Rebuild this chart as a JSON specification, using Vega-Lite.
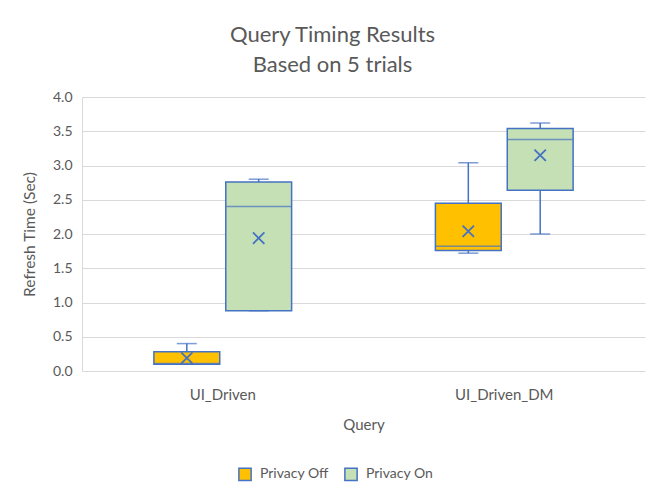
{
  "$schema": "https://vega.github.io/schema/vega-lite/v6.json",
  "width": 563,
  "height": 274,
  "autosize": {"type": "none"},
  "padding": {"left": 82, "top": 97, "right": 3, "bottom": 123},
  "background": "white",
  "config": {
    "view": {"stroke": null},
    "numberFormat": ".1f",
    "axisY": {
      "labelOverlap": false,
      "labelFont": "Lato",
      "labelFontSize": 14,
      "labelColor": "#595959",
      "labelPadding": 10,
      "titleFont": "Lato",
      "titleFontSize": 15.5,
      "titleFontWeight": "normal",
      "titleColor": "#595959",
      "titlePadding": 15,
      "domain": true,
      "domainColor": "#D9D9D9",
      "ticks": false,
      "grid": true,
      "gridColor": "#D9D9D9",
      "gridWidth": 1.2
    }
  },
  "title": {
    "text": ["Query Timing Results", "Based on 5 trials"],
    "font": "Lato",
    "fontSize": 22,
    "fontWeight": "normal",
    "color": "#595959",
    "anchor": "middle",
    "dx": -31,
    "lineHeight": 30,
    "offset": 13
  },
  "data": {
    "values": [
      {"Query": "UI_Driven", "Privacy": "Privacy Off", "min": 0.10, "q1": 0.10, "median": 0.11, "q3": 0.28, "max": 0.40, "mean": 0.19},
      {"Query": "UI_Driven", "Privacy": "Privacy On", "min": 0.88, "q1": 0.88, "median": 2.40, "q3": 2.76, "max": 2.80, "mean": 1.94},
      {"Query": "UI_Driven_DM", "Privacy": "Privacy Off", "min": 1.72, "q1": 1.76, "median": 1.82, "q3": 2.45, "max": 3.04, "mean": 2.04},
      {"Query": "UI_Driven_DM", "Privacy": "Privacy On", "min": 2.00, "q1": 2.64, "median": 3.38, "q3": 3.54, "max": 3.62, "mean": 3.15}
    ]
  },
  "encoding": {
    "x": {
      "field": "Query",
      "type": "nominal",
      "scale": {"paddingInner": 0, "paddingOuter": 0},
      "axis": {
        "title": "Query",
        "labelAngle": 0,
        "labelFont": "Lato",
        "labelFontSize": 15,
        "labelColor": "#595959",
        "labelPadding": 16,
        "titleFont": "Lato",
        "titleFontSize": 15,
        "titleFontWeight": "normal",
        "titleColor": "#595959",
        "titlePadding": 15,
        "domain": false,
        "ticks": false,
        "grid": false
      }
    },
    "xOffset": {
      "field": "Privacy",
      "type": "nominal",
      "scale": {"paddingInner": 0.084, "paddingOuter": 1.01}
    }
  },
  "layer": [
    {
      "mark": {"type": "rule", "color": "#4472C4", "strokeWidth": 1.5},
      "encoding": {
        "y": {"field": "min", "type": "quantitative", "title": "Refresh Time (Sec)", "scale": {"domain": [0, 4]}, "axis": {"values": [0, 0.5, 1, 1.5, 2, 2.5, 3, 3.5, 4]}},
        "y2": {"field": "q1"}
      }
    },
    {
      "mark": {"type": "rule", "color": "#4472C4", "strokeWidth": 1.5},
      "encoding": {
        "y": {"field": "q3", "type": "quantitative", "title": "Refresh Time (Sec)", "axis": {"values": [0, 0.5, 1, 1.5, 2, 2.5, 3, 3.5, 4]}},
        "y2": {"field": "max"}
      }
    },
    {
      "mark": {"type": "tick", "color": "#4472C4", "size": 20, "thickness": 1.5, "orient": "horizontal"},
      "encoding": {
        "y": {"field": "min", "type": "quantitative", "title": "Refresh Time (Sec)", "axis": {"values": [0, 0.5, 1, 1.5, 2, 2.5, 3, 3.5, 4]}}
      }
    },
    {
      "mark": {"type": "tick", "color": "#4472C4", "size": 20, "thickness": 1.5, "orient": "horizontal"},
      "encoding": {
        "y": {"field": "max", "type": "quantitative", "title": "Refresh Time (Sec)", "axis": {"values": [0, 0.5, 1, 1.5, 2, 2.5, 3, 3.5, 4]}}
      }
    },
    {
      "mark": {"type": "bar", "stroke": "#4472C4", "strokeWidth": 1.5, "opacity": 1},
      "encoding": {
        "y": {"field": "q1", "type": "quantitative", "title": "Refresh Time (Sec)", "axis": {"values": [0, 0.5, 1, 1.5, 2, 2.5, 3, 3.5, 4]}},
        "y2": {"field": "q3"},
        "color": {
          "field": "Privacy",
          "type": "nominal",
          "scale": {"domain": ["Privacy Off", "Privacy On"], "range": ["#FFC000", "#C5E0B4"]},
          "legend": {
            "title": null,
            "orient": "none",
            "direction": "horizontal",
            "legendX": 156,
            "legendY": 370,
            "symbolType": "square",
            "symbolSize": 150,
            "symbolStrokeColor": "#4472C4",
            "symbolStrokeWidth": 1.5,
            "symbolOpacity": 1,
            "labelFont": "Lato",
            "labelFontSize": 14,
            "labelColor": "#595959",
            "columnPadding": 12,
            "labelOffset": 8
          }
        }
      }
    },
    {
      "mark": {"type": "tick", "color": "#4472C4", "size": 65, "thickness": 1.5, "orient": "horizontal"},
      "encoding": {
        "y": {"field": "median", "type": "quantitative", "title": "Refresh Time (Sec)", "axis": {"values": [0, 0.5, 1, 1.5, 2, 2.5, 3, 3.5, 4]}}
      }
    },
    {
      "mark": {"type": "point", "shape": "M-1,-1L1,1M1,-1L-1,1", "size": 130, "filled": false, "stroke": "#4472C4", "strokeWidth": 1.8, "opacity": 1},
      "encoding": {
        "y": {"field": "mean", "type": "quantitative", "title": "Refresh Time (Sec)", "axis": {"values": [0, 0.5, 1, 1.5, 2, 2.5, 3, 3.5, 4]}}
      }
    }
  ]
}
